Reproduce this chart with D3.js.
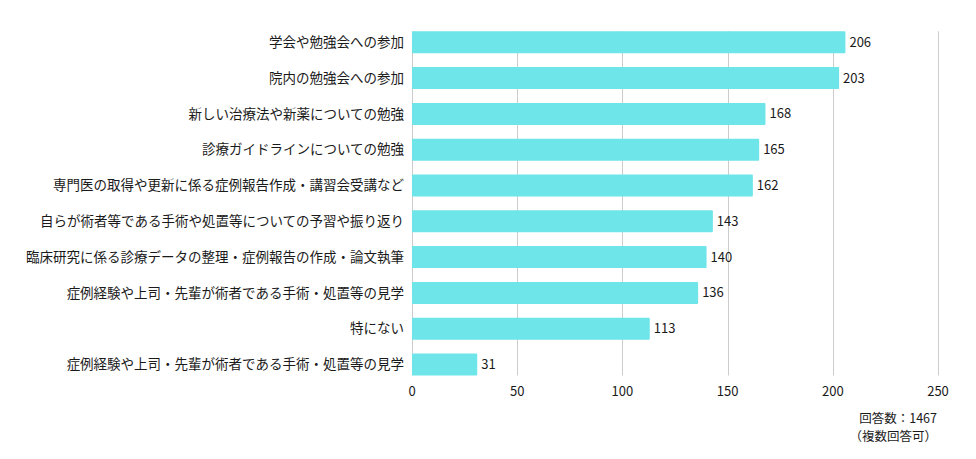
<!DOCTYPE html>
<html lang="ja">
<head>
  <meta charset="utf-8" />
  <script src="https://d3js.org/d3.v7.min.js"></script>
  <style>
    body { margin: 0; background: #fff; }
    text { font-family: "Noto Sans CJK JP", "Noto Sans", sans-serif; fill: #1a1a1a; }
  </style>
</head>
<body>
  <div id="chart"></div>
  <script>
    const categories = [
      "学会や勉強会への参加",
      "院内の勉強会への参加",
      "新しい治療法や新薬についての勉強",
      "診療ガイドラインについての勉強",
      "専門医の取得や更新に係る症例報告作成・講習会受講など",
      "自らが術者等である手術や処置等についての予習や振り返り",
      "臨床研究に係る診療データの整理・症例報告の作成・論文執筆",
      "症例経験や上司・先輩が術者である手術・処置等の見学",
      "特にない",
      "症例経験や上司・先輩が術者である手術・処置等の見学"
    ];
    const values = [206, 203, 168, 165, 162, 143, 140, 136, 113, 31];
    const ticks = [0, 50, 100, 150, 200, 250];
    const noteLines = ["回答数：1467", "（複数回答可）"];

    const svgWidth = 976, svgHeight = 459;
    const plot = { left: 412, right: 938, top: 17.5, bottom: 389.3 };
    const barColor = "#6de5e9";
    const gridColor = "#cccccc";

    const svg = d3.select("#chart").append("svg")
      .attr("width", svgWidth).attr("height", svgHeight);

    const x = d3.scaleLinear().domain([0, 250]).range([plot.left, plot.right]);
    const y = d3.scaleBand().domain(d3.range(categories.length))
      .range([plot.top, plot.bottom]).paddingInner(0.385).paddingOuter(0.385);

    const gridTop = y(0);
    const gridBottom = y(categories.length - 1) + y.bandwidth();

    // gridlines
    svg.append("g").selectAll("line").data(ticks).join("line")
      .attr("x1", d => Math.round(x(d)) + 0.5).attr("x2", d => Math.round(x(d)) + 0.5)
      .attr("y1", gridTop).attr("y2", gridBottom)
      .attr("stroke", gridColor).attr("stroke-width", 1);

    // bars
    svg.append("g").selectAll("rect").data(values).join("rect")
      .attr("x", x(0)).attr("y", (d, i) => y(i))
      .attr("width", d => x(d) - x(0)).attr("height", y.bandwidth())
      .attr("fill", barColor).attr("rx", 1);

    // value labels
    svg.append("g").selectAll("text").data(values).join("text")
      .attr("x", d => x(d) + 4).attr("y", (d, i) => y(i) + y.bandwidth() / 2)
      .attr("dy", "0.35em").attr("font-size", "13px")
      .text(d => d);

    // category labels
    svg.append("g").selectAll("text").data(categories).join("text")
      .attr("x", 404).attr("y", (d, i) => y(i) + y.bandwidth() / 2)
      .attr("dy", "0.35em").attr("text-anchor", "end").attr("font-size", "13.5px")
      .text(d => d);

    // x axis tick labels
    svg.append("g").selectAll("text").data(ticks).join("text")
      .attr("x", d => x(d)).attr("y", 391)
      .attr("dy", "0.35em").attr("text-anchor", "middle").attr("font-size", "13px")
      .text(d => d);

    // note
    svg.append("g").selectAll("text").data(noteLines).join("text")
      .attr("x", 937).attr("y", (d, i) => 419 + i * 18)
      .attr("dy", "0.35em").attr("text-anchor", "end").attr("font-size", "12.5px")
      .text(d => d);
  </script>
</body>
</html>
